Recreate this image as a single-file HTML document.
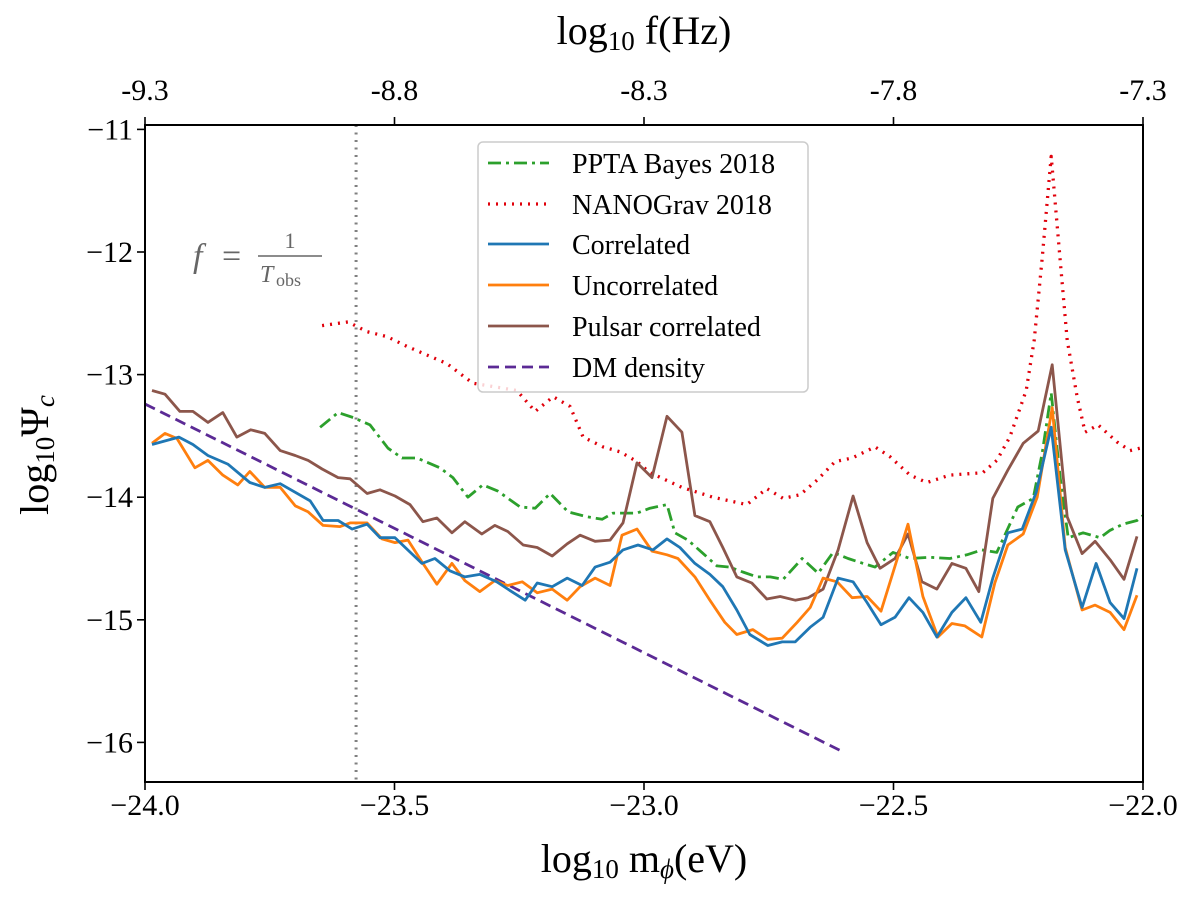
<!DOCTYPE html>
<html><head><meta charset="utf-8"><style>
html,body{margin:0;padding:0;background:#fff;}
svg text{font-family:"Liberation Serif",serif;}
</style></head><body>
<svg id="chart" width="1200" height="900" xmlns="http://www.w3.org/2000/svg">
<rect x="0" y="0" width="1200" height="900" fill="#fff"/>
<g id="plot"></g>
<g id="axes"></g>
</svg>
<script>
const xTicks=[-24.0,-23.5,-23.0,-22.5,-22.0];
const xTickLabels=["\u221224.0","\u221223.5","\u221223.0","\u221222.5","\u221222.0"];
const yTicks=[-11,-12,-13,-14,-15,-16];
const yTickLabels=["\u221211","\u221212","\u221213","\u221214","\u221215","\u221216"];
const topTickLabels=["-9.3","-8.8","-8.3","-7.8","-7.3"];
const tobsX=-23.577;

const corrX=[-23.986,-23.932,-23.904,-23.874,-23.834,-23.790,-23.760,-23.729,-23.669,-23.643,-23.613,-23.585,-23.555,-23.529,-23.499,-23.445,-23.419,-23.389,-23.359,-23.329,-23.295,-23.269,-23.238,-23.214,-23.184,-23.154,-23.124,-23.098,-23.068,-23.042,-23.012,-22.982,-22.954,-22.928,-22.898,-22.868,-22.842,-22.814,-22.788,-22.752,-22.723,-22.697,-22.667,-22.641,-22.611,-22.581,-22.553,-22.525,-22.497,-22.469,-22.441,-22.413,-22.383,-22.355,-22.325,-22.301,-22.271,-22.242,-22.214,-22.184,-22.156,-22.122,-22.094,-22.066,-22.038,-22.012];
const corrY=[-13.57,-13.51,-13.57,-13.66,-13.73,-13.88,-13.92,-13.89,-14.03,-14.19,-14.19,-14.26,-14.22,-14.33,-14.33,-14.54,-14.50,-14.60,-14.65,-14.63,-14.69,-14.76,-14.84,-14.70,-14.73,-14.66,-14.72,-14.57,-14.53,-14.43,-14.39,-14.43,-14.34,-14.41,-14.54,-14.63,-14.73,-14.92,-15.12,-15.21,-15.18,-15.18,-15.06,-14.98,-14.66,-14.69,-14.86,-15.04,-14.98,-14.82,-14.94,-15.14,-14.94,-14.82,-15.02,-14.66,-14.29,-14.26,-13.96,-13.43,-14.43,-14.90,-14.54,-14.86,-14.99,-14.58];

const uncX=[-23.986,-23.960,-23.936,-23.900,-23.874,-23.844,-23.814,-23.790,-23.760,-23.729,-23.699,-23.673,-23.643,-23.609,-23.589,-23.555,-23.525,-23.499,-23.473,-23.443,-23.415,-23.385,-23.359,-23.329,-23.299,-23.273,-23.244,-23.214,-23.184,-23.154,-23.128,-23.098,-23.068,-23.044,-23.014,-22.984,-22.954,-22.932,-22.898,-22.868,-22.838,-22.814,-22.782,-22.752,-22.723,-22.693,-22.667,-22.641,-22.613,-22.583,-22.553,-22.525,-22.471,-22.441,-22.411,-22.383,-22.357,-22.323,-22.297,-22.271,-22.240,-22.212,-22.182,-22.156,-22.122,-22.096,-22.066,-22.038,-22.012];
const uncY=[-13.56,-13.48,-13.52,-13.76,-13.70,-13.82,-13.90,-13.79,-13.92,-13.92,-14.07,-14.12,-14.23,-14.24,-14.21,-14.21,-14.34,-14.37,-14.35,-14.54,-14.71,-14.54,-14.68,-14.77,-14.68,-14.72,-14.69,-14.78,-14.75,-14.84,-14.73,-14.66,-14.72,-14.31,-14.26,-14.44,-14.47,-14.50,-14.65,-14.84,-15.02,-15.12,-15.08,-15.16,-15.15,-15.02,-14.90,-14.66,-14.69,-14.82,-14.81,-14.93,-14.22,-14.81,-15.14,-15.03,-15.05,-15.14,-14.70,-14.39,-14.30,-14.00,-13.27,-14.41,-14.92,-14.88,-14.94,-15.08,-14.80];

const pulsX=[-23.986,-23.960,-23.930,-23.904,-23.874,-23.844,-23.816,-23.788,-23.760,-23.729,-23.699,-23.673,-23.645,-23.613,-23.589,-23.555,-23.529,-23.499,-23.469,-23.443,-23.415,-23.385,-23.359,-23.325,-23.299,-23.273,-23.242,-23.214,-23.184,-23.154,-23.128,-23.098,-23.068,-23.042,-23.014,-22.984,-22.954,-22.924,-22.898,-22.868,-22.842,-22.814,-22.784,-22.754,-22.727,-22.697,-22.671,-22.641,-22.611,-22.581,-22.553,-22.527,-22.497,-22.471,-22.443,-22.413,-22.383,-22.355,-22.329,-22.301,-22.271,-22.240,-22.210,-22.182,-22.152,-22.122,-22.096,-22.066,-22.038,-22.012];
const pulsY=[-13.13,-13.16,-13.30,-13.30,-13.39,-13.31,-13.51,-13.45,-13.48,-13.62,-13.66,-13.70,-13.77,-13.84,-13.85,-13.97,-13.94,-13.99,-14.06,-14.20,-14.17,-14.29,-14.20,-14.30,-14.23,-14.28,-14.39,-14.41,-14.48,-14.38,-14.31,-14.36,-14.35,-14.21,-13.72,-13.84,-13.34,-13.47,-14.15,-14.20,-14.41,-14.65,-14.70,-14.83,-14.81,-14.84,-14.82,-14.75,-14.43,-13.99,-14.37,-14.58,-14.50,-14.30,-14.69,-14.75,-14.54,-14.58,-14.77,-14.01,-13.78,-13.56,-13.46,-12.92,-14.16,-14.46,-14.36,-14.51,-14.67,-14.32];

const pptaX=[-23.649,-23.613,-23.583,-23.549,-23.513,-23.485,-23.455,-23.409,-23.383,-23.353,-23.323,-23.293,-23.248,-23.218,-23.188,-23.152,-23.114,-23.084,-23.062,-23.014,-22.988,-22.954,-22.938,-22.912,-22.884,-22.854,-22.828,-22.802,-22.774,-22.747,-22.721,-22.683,-22.651,-22.621,-22.591,-22.561,-22.537,-22.501,-22.467,-22.427,-22.387,-22.353,-22.323,-22.293,-22.251,-22.220,-22.202,-22.184,-22.166,-22.150,-22.120,-22.086,-22.066,-22.040,-22.012,-22.000];
const pptaY=[-13.43,-13.31,-13.35,-13.41,-13.60,-13.68,-13.68,-13.76,-13.84,-14.00,-13.90,-13.95,-14.08,-14.09,-13.97,-14.12,-14.16,-14.18,-14.13,-14.13,-14.09,-14.06,-14.29,-14.35,-14.45,-14.56,-14.57,-14.61,-14.65,-14.65,-14.67,-14.50,-14.62,-14.45,-14.50,-14.54,-14.57,-14.45,-14.50,-14.49,-14.50,-14.47,-14.43,-14.45,-14.08,-14.01,-13.64,-13.15,-13.84,-14.33,-14.29,-14.33,-14.27,-14.22,-14.19,-14.15];

const nanoX=[-23.645,-23.593,-23.555,-23.515,-23.475,-23.435,-23.395,-23.343,-23.255,-23.218,-23.182,-23.148,-23.122,-23.082,-23.048,-23.014,-22.988,-22.924,-22.862,-22.794,-22.754,-22.721,-22.687,-22.653,-22.617,-22.583,-22.537,-22.507,-22.467,-22.433,-22.387,-22.321,-22.293,-22.267,-22.234,-22.218,-22.202,-22.184,-22.166,-22.152,-22.132,-22.116,-22.090,-22.052,-22.026,-22.006];
const nanoY=[-12.60,-12.57,-12.65,-12.69,-12.77,-12.84,-12.91,-13.07,-13.13,-13.30,-13.18,-13.26,-13.51,-13.59,-13.63,-13.71,-13.80,-13.92,-14.00,-14.06,-13.93,-14.01,-13.98,-13.86,-13.71,-13.68,-13.59,-13.67,-13.82,-13.88,-13.82,-13.80,-13.70,-13.51,-13.13,-12.72,-12.05,-11.22,-12.07,-12.72,-13.18,-13.47,-13.41,-13.55,-13.62,-13.60];

const dmX=[-24.0,-22.6];
const dmY=[-13.24,-16.08];

const L=145,R=1143,T=125,B=782;
function sx(v){return L+(v+24)*(R-L)/2;}
function sy(v){return 129.4+(-11-v)*122.6;}
const NS="http://www.w3.org/2000/svg";
function mk(tag,attrs,parent){const e=document.createElementNS(NS,tag);for(const k in attrs)e.setAttribute(k,attrs[k]);parent.appendChild(e);return e;}
const plot=document.getElementById('plot');
const axes=document.getElementById('axes');

const defs=mk('defs',{},plot);
const cp=mk('clipPath',{id:'clip'},defs);
mk('rect',{x:L,y:T,width:R-L,height:B-T},cp);
const pg=mk('g',{'clip-path':'url(#clip)'},plot);

const vline=mk('line',{x1:sx(tobsX),x2:sx(tobsX),y1:T,y2:B,stroke:'#808080','stroke-width':3,'stroke-dasharray':'2 5.5'},pg);



function series(xs,ys,color,dash,name,w){
  const d=xs.map((x,i)=>(i?'L':'M')+sx(x).toFixed(1)+' '+sy(ys[i]).toFixed(1)).join(' ');
  const p=mk('path',{d:d,fill:'none',stroke:color,'stroke-width':w||2.8,'stroke-linejoin':'round'},pg);
  if(dash)p.setAttribute('stroke-dasharray',dash);
  if(dash==='2 6')p.setAttribute('stroke-width',3.3);
  
  
}
series(dmX,dmY,'#5b2a95','11 6','series-dm-density');
series(pptaX,pptaY,'#2ca02c','13 5 3 5','series-ppta-bayes-2018');
series(nanoX,nanoY,'#e0000b','2 6','series-nanograv-2018');
series(pulsX,pulsY,'#8c564b',null,'series-pulsar-correlated');
series(uncX,uncY,'#ff7f0e',null,'series-uncorrelated');
series(corrX,corrY,'#1f77b4',null,'series-correlated');

const fr=mk('rect',{x:L,y:T,width:R-L,height:B-T,fill:'none',stroke:'#000','stroke-width':2},axes);



xTicks.forEach((v,i)=>{
  const x=sx(v);
  mk('line',{x1:x,x2:x,y1:B,y2:B+8,stroke:'#000','stroke-width':1.6},axes);
  const t=mk('text',{x:x,y:B+33,'font-size':30,'text-anchor':'middle'},axes);
  t.textContent=xTickLabels[i];
  
  
  mk('line',{x1:x,x2:x,y1:T,y2:T-8,stroke:'#000','stroke-width':1.6},axes);
  const t2=mk('text',{x:x,y:T-25,'font-size':30,'text-anchor':'middle'},axes);
  t2.textContent=topTickLabels[i];
  
  
});
yTicks.forEach((v,i)=>{
  const y=sy(v);
  mk('line',{x1:L,x2:L-8,y1:y,y2:y,stroke:'#000','stroke-width':1.6},axes);
  const t=mk('text',{x:L-12,y:y+10,'font-size':30,'text-anchor':'end'},axes);
  t.textContent=yTickLabels[i];
  
  
});
</script>
<svg style="position:absolute;left:0;top:0" width="1200" height="900" xmlns="http://www.w3.org/2000/svg">
<text x="644" y="872" font-size="40" text-anchor="middle" font-family="Liberation Serif, serif">log<tspan font-size="27" dy="6">10</tspan><tspan dy="-6"> m</tspan><tspan font-size="27" dy="6" font-style="italic">ϕ</tspan><tspan dy="-6">(eV)</tspan></text>
<text x="644" y="44" font-size="40" text-anchor="middle" font-family="Liberation Serif, serif">log<tspan font-size="27" dy="6">10</tspan><tspan dy="-6"> f(Hz)</tspan></text>
<text transform="translate(48,455) rotate(-90)" font-size="40" text-anchor="middle" font-family="Liberation Serif, serif">log<tspan font-size="27" dy="6">10</tspan><tspan dy="-6">Ψ</tspan><tspan font-size="27" dy="6" font-style="italic">c</tspan></text>
<g fill="#666" font-family="Liberation Serif, serif">
<text x="193" y="267" font-size="34" font-style="italic">f</text>
<text x="222" y="267" font-size="34">=</text>
<text x="290" y="248" font-size="22" text-anchor="middle">1</text>
<line x1="258" x2="322" y1="256" y2="256" stroke="#666" stroke-width="1.5"/>
<text x="260" y="282" font-size="24" font-style="italic">T</text><text x="276" y="286" font-size="18">obs</text>
</g>
<g>
<rect x="478" y="142" width="330" height="250" rx="5" fill="#fff" fill-opacity="0.82" stroke="#ccc" stroke-width="1.5"/>
<g><line x1="488" x2="549" y1="163" y2="163" stroke="#2ca02c" stroke-width="2.8" stroke-dasharray="13 5 3 5"/><text x="572" y="173" font-size="28" font-family="Liberation Serif, serif">PPTA Bayes 2018</text></g>
<g><line x1="488" x2="549" y1="204" y2="204" stroke="#e0000b" stroke-width="3.3" stroke-dasharray="2 6"/><text x="572" y="214" font-size="28" font-family="Liberation Serif, serif">NANOGrav 2018</text></g>
<g><line x1="488" x2="549" y1="244" y2="244" stroke="#1f77b4" stroke-width="2.8"/><text x="572" y="254" font-size="28" font-family="Liberation Serif, serif">Correlated</text></g>
<g><line x1="488" x2="549" y1="285" y2="285" stroke="#ff7f0e" stroke-width="2.8"/><text x="572" y="295" font-size="28" font-family="Liberation Serif, serif">Uncorrelated</text></g>
<g><line x1="488" x2="549" y1="326" y2="326" stroke="#8c564b" stroke-width="2.8"/><text x="572" y="336" font-size="28" font-family="Liberation Serif, serif">Pulsar correlated</text></g>
<g><line x1="488" x2="549" y1="367" y2="367" stroke="#5b2a95" stroke-width="2.8" stroke-dasharray="11 6"/><text x="572" y="377" font-size="28" font-family="Liberation Serif, serif">DM density</text></g>
</g>
</svg>
</body></html>
